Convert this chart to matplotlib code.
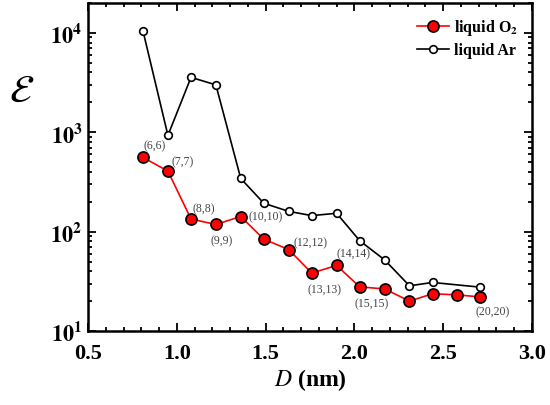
import numpy as np
import matplotlib
matplotlib.use("Agg")
import matplotlib.pyplot as plt
from matplotlib.ticker import MultipleLocator, LogLocator, NullFormatter

plt.rcParams["font.family"] = ["Liberation Serif", "DejaVu Serif"]
plt.rcParams["mathtext.fontset"] = "stix"

# diameters of the (n,n) tubes
d_o2 = [0.81, 0.95, 1.08, 1.22, 1.36, 1.49, 1.63, 1.76, 1.90, 2.03, 2.17, 2.31, 2.44, 2.58, 2.71]
eps_o2 = [559, 406, 134, 118, 142, 84, 66, 38.3, 45.7, 27.8, 26.5, 20, 23.7, 23.1, 22]

d_ar = [0.81, 0.95, 1.08, 1.22, 1.36, 1.49, 1.63, 1.76, 1.90, 2.03, 2.17, 2.31, 2.44, 2.71]
eps_ar = [10400, 930, 3570, 3000, 343, 193, 160, 145, 153, 81, 52, 28.5, 30.8, 27.6]

# labelled O2 points: index into d_o2, text
tube_idx = [0, 1, 2, 3, 4, 6, 7, 8, 9, 14]
tube_lbl = ["(6,6)", "(7,7)", "(8,8)", "(9,9)", "(10,10)", "(12,12)",
            "(13,13)", "(14,14)", "(15,15)", "(20,20)"]
# label offsets in pixels (dx, dy) and horizontal alignment
lbl_off = {
    "(6,6)": (0, 12, "left"), "(7,7)": (4, 10, "left"), "(8,8)": (1, 11, "left"),
    "(9,9)": (6, -16, "center"), "(10,10)": (8, 0, "left"), "(12,12)": (5, 7, "left"),
    "(13,13)": (13, -16, "center"), "(14,14)": (0, 12, "left"),
    "(15,15)": (12, -16, "center"), "(20,20)": (12, -14, "center"),
}

fig = plt.figure(figsize=(5.5, 4.06), dpi=100)
ax = fig.add_axes([88 / 550, 1 - 332 / 406, (532 - 88) / 550, (332 - 4) / 406])

h_o2, = ax.plot(d_o2, eps_o2, color="red", lw=1.2, marker="o", ms=8,
                mfc="red", mec="black", mew=1.2, label=r"liquid O$_\mathbf{2}$", zorder=4)
h_ar, = ax.plot(d_ar, eps_ar, color="black", lw=1.2, marker="o", ms=5.5,
                mfc="white", mec="black", mew=1.2, label="liquid Ar", zorder=3)

for i, t in zip(tube_idx, tube_lbl):
    dx, dy, ha = lbl_off[t]
    ax.annotate(t, (d_o2[i], eps_o2[i]), xytext=(dx, dy), textcoords="offset pixels",
                ha=ha, va="center", fontsize=8.5, color="#444444")

ax.set_yscale("log")
ax.set_xlim(0.5, 3.0)
ax.set_ylim(10, 2.0e4)
ax.xaxis.set_minor_locator(MultipleLocator(0.1))
ax.yaxis.set_minor_locator(LogLocator(base=10, subs=np.arange(2, 10), numticks=10))
ax.yaxis.set_minor_formatter(NullFormatter())
ax.tick_params(which="both", direction="in", top=True, right=True, width=1.3)
ax.tick_params(which="major", length=6)
ax.tick_params(which="minor", length=3)
ax.tick_params(axis="x", which="major", pad=9)
ax.tick_params(axis="y", which="major", pad=4)
ax.set_xticks([0.5, 1.0, 1.5, 2.0, 2.5, 3.0])
ax.set_xticklabels(["0.5", "1.0", "1.5", "2.0", "2.5", "3.0"], fontweight="bold", fontsize=16)
ax.set_yticks([10, 100, 1000, 10000])
ax.set_yticklabels([r"$\mathbf{10^1}$", r"$\mathbf{10^2}$", r"$\mathbf{10^3}$", r"$\mathbf{10^4}$"],
                   fontsize=16)
for sp in ax.spines.values():
    sp.set_linewidth(1.8)

ax.set_xlabel(r"$\mathit{D}$ (nm)", fontsize=17, fontweight="bold", labelpad=2)
ax.set_ylabel(r"$\mathcal{E}$", fontsize=28, rotation=0, va="center", ha="center")
ax.yaxis.set_label_coords(-0.15, 0.73)

ax.legend(handles=[h_o2, h_ar], loc="upper right", frameon=False,
          prop={"weight": "bold", "size": 11.5},
          handlelength=2.0, handletextpad=0.3, borderaxespad=0.5, labelspacing=0.3)

fig.savefig("out.png", dpi=100)
